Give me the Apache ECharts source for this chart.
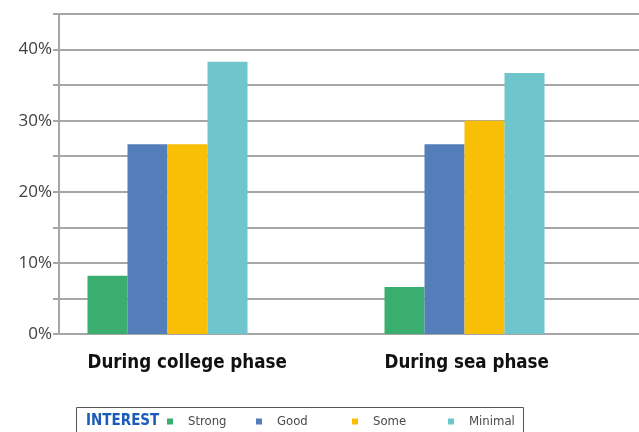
<!DOCTYPE html>
<html>
<head>
<meta charset="utf-8">
<script src="https://cdn.jsdelivr.net/npm/echarts@6/dist/echarts.min.js"></script>
<style>
  html, body { margin: 0; padding: 0; background: #fff; }
  #chart { width: 639px; height: 432px; }
</style>
</head>
<body>
<div id="chart"></div>
<script>
// data
const phases = ['During college phase', 'During sea phase']
const strong = [8.2, 6.6]
const good = [26.7, 26.7]
const some = [26.7, 30.0]
const minimal = [38.3, 36.7]
const interestNames = ['Strong', 'Good', 'Some', 'Minimal']
const colors = ['#3aae6e', '#537eb9', '#f9be06', '#6fc5cc']

const chart = echarts.init(document.getElementById('chart'))

const barSeries = (name, data, color) => ({
  name,
  type: 'bar',
  data,
  barWidth: 40,
  barGap: 0,
  itemStyle: {color},
})

// two empty slots keep the visible bars on the left of each category (as in the original)
const spacer = () => ({type: 'bar', data: ['-', '-'], barWidth: 40, barGap: 0, silent: true})

const gridColor = '#a6a6a6'
const narrow = '"Liberation Sans Narrow", "DejaVu Sans Condensed", sans-serif'

// one legend per item so each sits in its own fixed slot like the original key
const legendLeft = [167, 256, 352, 448]
const legends = interestNames.map((name, i) => ({
  data: [name],
  left: legendLeft[i],
  top: 415,
  padding: 0,
  icon: 'rect',
  itemWidth: 6,
  itemHeight: 6,
  textStyle: {
    fontFamily: narrow,
    fontSize: 13,
    color: '#4a4a4a',
    padding: [0, 0, 0, 10],
  },
}))

const option = {
  animation: false,
  grid: {left: 59, right: -14, top: 14, bottom: 98, outerBoundsMode: 'none'},
  legend: legends,
  graphic: [
    {
      type: 'rect',
      shape: {x: 76.5, y: 407.5, width: 447, height: 40},
      style: {fill: 'none', stroke: '#555', lineWidth: 1},
      silent: true,
    },
    {
      type: 'text',
      left: 86,
      top: 414,
      style: {
        text: 'INTEREST',
        fill: '#1a5cb8',
        font: 'bold 15px ' + narrow,
      },
    },
  ],
  xAxis: {
    type: 'category',
    data: phases,
    axisTick: {show: false},
    axisLine: {lineStyle: {color: gridColor, width: 2}},
    axisLabel: {
      margin: 20,
      width: 240,
      overflow: 'none',
      formatter: (v) => '{a|' + v + '}',
      rich: {
        a: {
          align: 'left',
          fontFamily: narrow,
          fontWeight: 'bold',
          fontSize: 18.6,
          color: '#111',
        },
      },
    },
  },
  yAxis: {
    type: 'value',
    min: 0,
    max: 45,
    interval: 5,
    axisLine: {show: true, lineStyle: {color: gridColor, width: 2}},
    axisTick: {show: true, length: 6, lineStyle: {color: gridColor, width: 2}},
    splitLine: {lineStyle: {color: gridColor, width: 2}},
    axisLabel: {
      margin: 7,
      fontFamily: '"Open Sans", sans-serif',
      fontSize: 17,
      color: '#404040',
      formatter: (v) => (v % 10 === 0 ? v + '%' : ''),
    },
  },
  series: [
    barSeries('Strong', strong, colors[0]),
    barSeries('Good', good, colors[1]),
    barSeries('Some', some, colors[2]),
    barSeries('Minimal', minimal, colors[3]),
    spacer(),
    spacer(),
  ],
}

chart.setOption(option)
</script>
</body>
</html>
